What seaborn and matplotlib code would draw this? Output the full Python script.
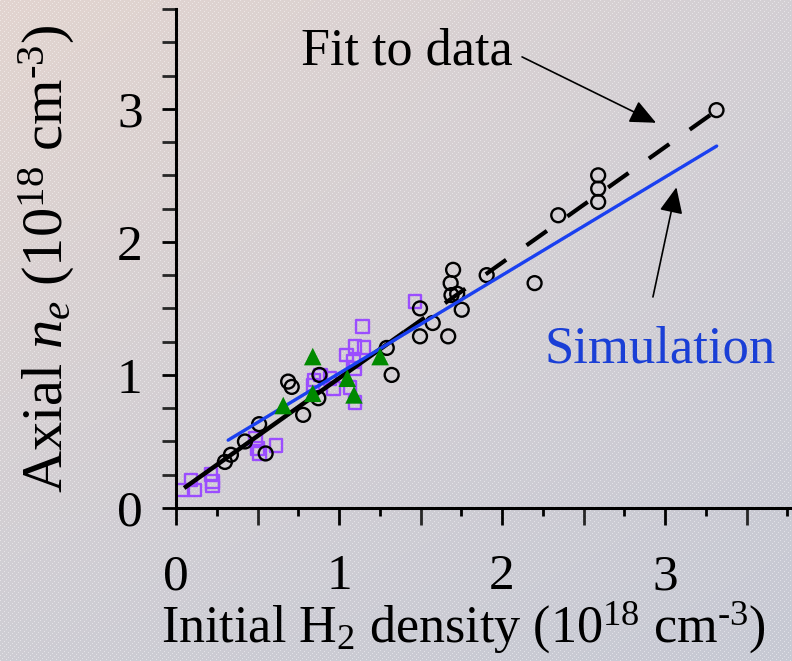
import numpy as np
import matplotlib
matplotlib.use("Agg")
import matplotlib.pyplot as plt
import seaborn as sns

# Measured axial electron density vs initial H2 density (units of 1e18 cm^-3)
circle_x = [0.30, 0.337, 0.423, 0.51, 0.55, 0.688, 0.71, 0.78, 0.873, 0.88,
            1.293, 1.323, 1.497, 1.575, 1.497, 1.67, 1.70, 1.685, 1.69, 1.725,
            1.753, 1.906, 2.20, 2.345, 2.59, 2.59, 2.59, 3.316]
circle_y = [0.346, 0.40, 0.50, 0.63, 0.41, 0.95, 0.91, 0.70, 0.825, 1.00,
            1.203, 1.00, 1.50, 1.39, 1.29, 1.29, 1.79, 1.69, 1.60, 1.61,
            1.49, 1.75, 1.69, 2.20, 2.50, 2.40, 2.30, 2.99]

square_x = [0.04, 0.092, 0.112, 0.215, 0.225, 0.225, 0.49, 0.50, 0.51, 0.613,
            0.888, 0.847, 0.945, 0.965, 0.84, 1.047, 1.088, 1.098, 1.098,
            1.153, 1.145, 1.067, 1.098, 1.466]
square_y = [0.135, 0.21, 0.135, 0.25, 0.198, 0.165, 0.52, 0.45, 0.41, 0.47,
            1.00, 0.962, 0.975, 0.90, 0.925, 1.15, 1.10, 1.05, 1.213,
            1.205, 1.363, 0.907, 0.792, 1.55]

triangle_x = [0.658, 0.839, 0.839, 1.051, 1.092, 1.252]
triangle_y = [0.77, 1.138, 0.862, 0.975, 0.85, 1.138]

# Linear fit to the data: solid over the fitted range, dashed extension
fit_x = [0.05, 1.40, 3.32]
fit_y = [0.15, 1.322, 2.99]

# Simulation result
sim_x = [0.32, 3.317]
sim_y = [0.51, 2.72]

x_ticks = [0, 1, 2, 3]
y_ticks = [0, 1, 2, 3]

sns.set_theme(style="ticks")
plt.rcParams["font.family"] = ["Liberation Serif", "DejaVu Serif"]
plt.rcParams["mathtext.fontset"] = "custom"
plt.rcParams["mathtext.rm"] = "Liberation Serif"
plt.rcParams["mathtext.it"] = "Liberation Serif:italic"
plt.rcParams["mathtext.bf"] = "Liberation Serif:bold"
plt.rcParams["text.color"] = "black"
plt.rcParams["axes.labelcolor"] = "black"

W, H = 792, 661
fig = plt.figure(figsize=(W / 100, H / 100), dpi=100)

# Tinted background with faint diagonal white striping
bg_ax = fig.add_axes([0, 0, 1, 1], zorder=-10)
yy, xx = np.mgrid[0:H, 0:W]
u = (xx / (W - 1))[..., None]
v = (yy / (H - 1))[..., None]
tl = np.array([226, 212, 207]) / 255
tr = np.array([211, 207, 212]) / 255
bl = np.array([206, 205, 212]) / 255
br = np.array([199, 201, 212]) / 255
img = tl * (1 - u) * (1 - v) + tr * u * (1 - v) + bl * (1 - u) * v + br * u * v
stripe = (((xx + yy) % 5) == 0) & ((xx % 2) == 0)
img[stripe] = img[stripe] * 0.55 + 0.45
bg_ax.imshow(img, aspect="auto", interpolation="nearest")
bg_ax.axis("off")

ax = fig.add_axes([176 / W, (H - 508) / H, (W - 176) / W, (508 - 9) / H])
ax.set_facecolor("none")

sns.scatterplot(x=square_x, y=square_y, marker="s", s=85, facecolor="none",
                edgecolor="#9b4dff", linewidth=1.7, ax=ax, zorder=2)
sns.scatterplot(x=circle_x, y=circle_y, marker="o", s=100, facecolor="none",
                edgecolor="black", linewidth=1.7, ax=ax, zorder=2)

sns.lineplot(x=fit_x[:2], y=fit_y[:2], color="black", ax=ax, zorder=3, sort=False)
solid_fit = ax.lines[-1]
sns.lineplot(x=fit_x[1:], y=fit_y[1:], color="black", ax=ax, zorder=3, sort=False)
dashed_fit = ax.lines[-1]
sns.lineplot(x=sim_x, y=sim_y, color="#1a40f0", ax=ax, zorder=3, sort=False)
sim_line = ax.lines[-1]

solid_fit.set_linewidth(3.2)
solid_fit.set_solid_capstyle("butt")
dashed_fit.set_linewidth(3.0)
dashed_fit.set_dashes((6, 6))
dashed_fit.set_dash_capstyle("butt")
sim_line.set_linewidth(2.4)

sns.scatterplot(x=triangle_x, y=triangle_y, marker="^", s=160, color="#008a00",
                edgecolor="none", ax=ax, zorder=4)

ax.set_xlim(0, (W - 176) / 163)
ax.set_ylim(0, 3.75)
ax.set_xticks(x_ticks)
ax.set_yticks(y_ticks)
ax.set_xticks(np.arange(0.5, 3.8, 1.0), minor=True)
ax.set_yticks(np.arange(0, 3.76, 0.25), minor=True)

sns.despine(ax=ax)
for side in ("left", "bottom"):
    ax.spines[side].set_linewidth(2.2)
    ax.spines[side].set_color("black")

ax.tick_params(axis="x", which="major", length=12, width=2, direction="out",
               labelsize=37, pad=21, colors="black")
ax.tick_params(axis="y", which="major", length=10, width=2, direction="out",
               labelsize=37, pad=14, colors="black")
ax.tick_params(axis="y", which="minor", length=10, width=2, direction="out")
ax.tick_params(axis="x", which="minor", length=12, width=2, direction="out")
# short quarter-step ticks on the x axis
for xv in np.arange(0.25, 3.8, 0.5):
    ax.plot([xv, xv], [0, -0.06], color="black", linewidth=2,
            clip_on=False, zorder=5, solid_capstyle="butt")

ax.set_xlabel(r"Initial H$_2$ density (10$^{18}$ cm$^{\text{-}3}$)",
              fontsize=37.5, color="black")
ax.set_ylabel(r"Axial $n_e$ (10$^{18}$ cm$^{\text{-}3}$)", fontsize=42,
              color="black")
ax.xaxis.set_label_coords(0.466, -0.183)
ax.yaxis.set_label_coords(-0.16, 0.5)

ax.text(1.417, 3.43, "Fit to data", fontsize=37.5, ha="center", va="center",
        color="black")
ax.text(2.97, 1.19, "Simulation", fontsize=38, ha="center", va="center",
        color="#1a3fd6")

arrow_kw = dict(arrowstyle="-|>,head_length=0.8,head_width=0.36",
                mutation_scale=20, color="black", linewidth=1.2,
                shrinkA=0, shrinkB=0)
ax.annotate("", xy=(2.945, 2.895), xytext=(2.123, 3.39), arrowprops=arrow_kw)
ax.annotate("", xy=(3.07, 2.41), xytext=(2.926, 1.586), arrowprops=arrow_kw)

fig.savefig("out.png", dpi=100)
